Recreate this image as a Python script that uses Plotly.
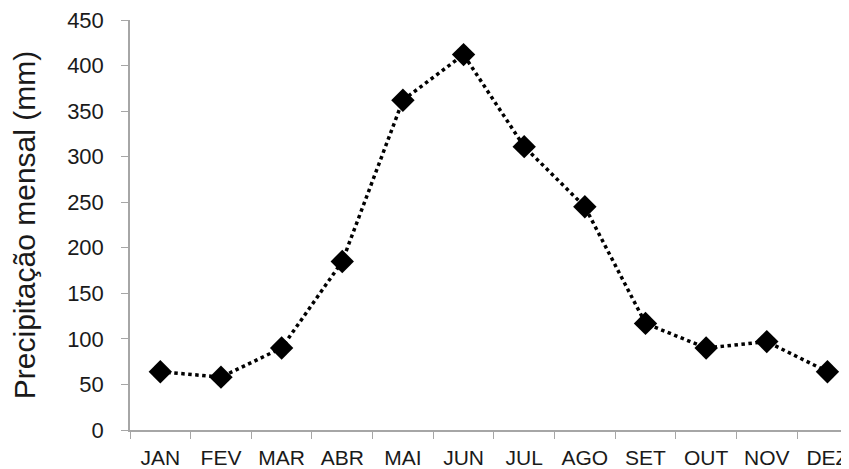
import plotly.graph_objects as go

# ── Data ───────────────────────────────────────────────────────────────────
MONTHS = ["JAN", "FEV", "MAR", "ABR", "MAI", "JUN", "JUL", "AGO", "SET", "OUT", "NOV", "DEZ"]
PRECIP_MM = [64, 58, 90, 185, 362, 412, 311, 245, 117, 90, 97, 64]
Y_TICKS = [0, 50, 100, 150, 200, 250, 300, 350, 400, 450]

# ── Style ──────────────────────────────────────────────────────────────────
FONT = "Liberation Sans, Arial, sans-serif"
AXIS_GRAY = "#a6a6a6"
TEXT = "#1a1a1a"

fig = go.Figure()

fig.add_trace(go.Scatter(
    x=MONTHS,
    y=PRECIP_MM,
    mode="lines+markers",
    line=dict(color="black", width=3.5, dash="dot"),
    marker=dict(symbol="diamond", size=18, color="black"),
    showlegend=False,
))

# page body has an 8px margin, so the figure is shifted by 8px
fig.update_layout(
    width=841,
    height=461,
    paper_bgcolor="white",
    plot_bgcolor="white",
    margin=dict(l=122, r=0, t=11, b=39),
    font=dict(family=FONT, color=TEXT),
    xaxis=dict(
        type="category",
        range=[-0.5, 11.306],
        tickson="boundaries",
        ticks="outside",
        ticklen=7,
        tickcolor=AXIS_GRAY,
        showline=True,
        linecolor=AXIS_GRAY,
        linewidth=1.5,
        showgrid=False,
        tickfont=dict(size=21, color=TEXT),
        ticklabelstandoff=8,
    ),
    yaxis=dict(
        range=[0, 450],
        tickvals=Y_TICKS,
        ticks="outside",
        ticklen=7,
        tickcolor=AXIS_GRAY,
        showline=True,
        linecolor=AXIS_GRAY,
        linewidth=1.5,
        showgrid=False,
        zeroline=False,
        tickfont=dict(size=22, color=TEXT),
        ticklabelstandoff=13,
        ticklabeloverflow="allow",
        title=dict(text="Precipitação mensal (mm)", font=dict(size=30, color=TEXT), standoff=24),
    ),
)

fig.write_html("out.html")
